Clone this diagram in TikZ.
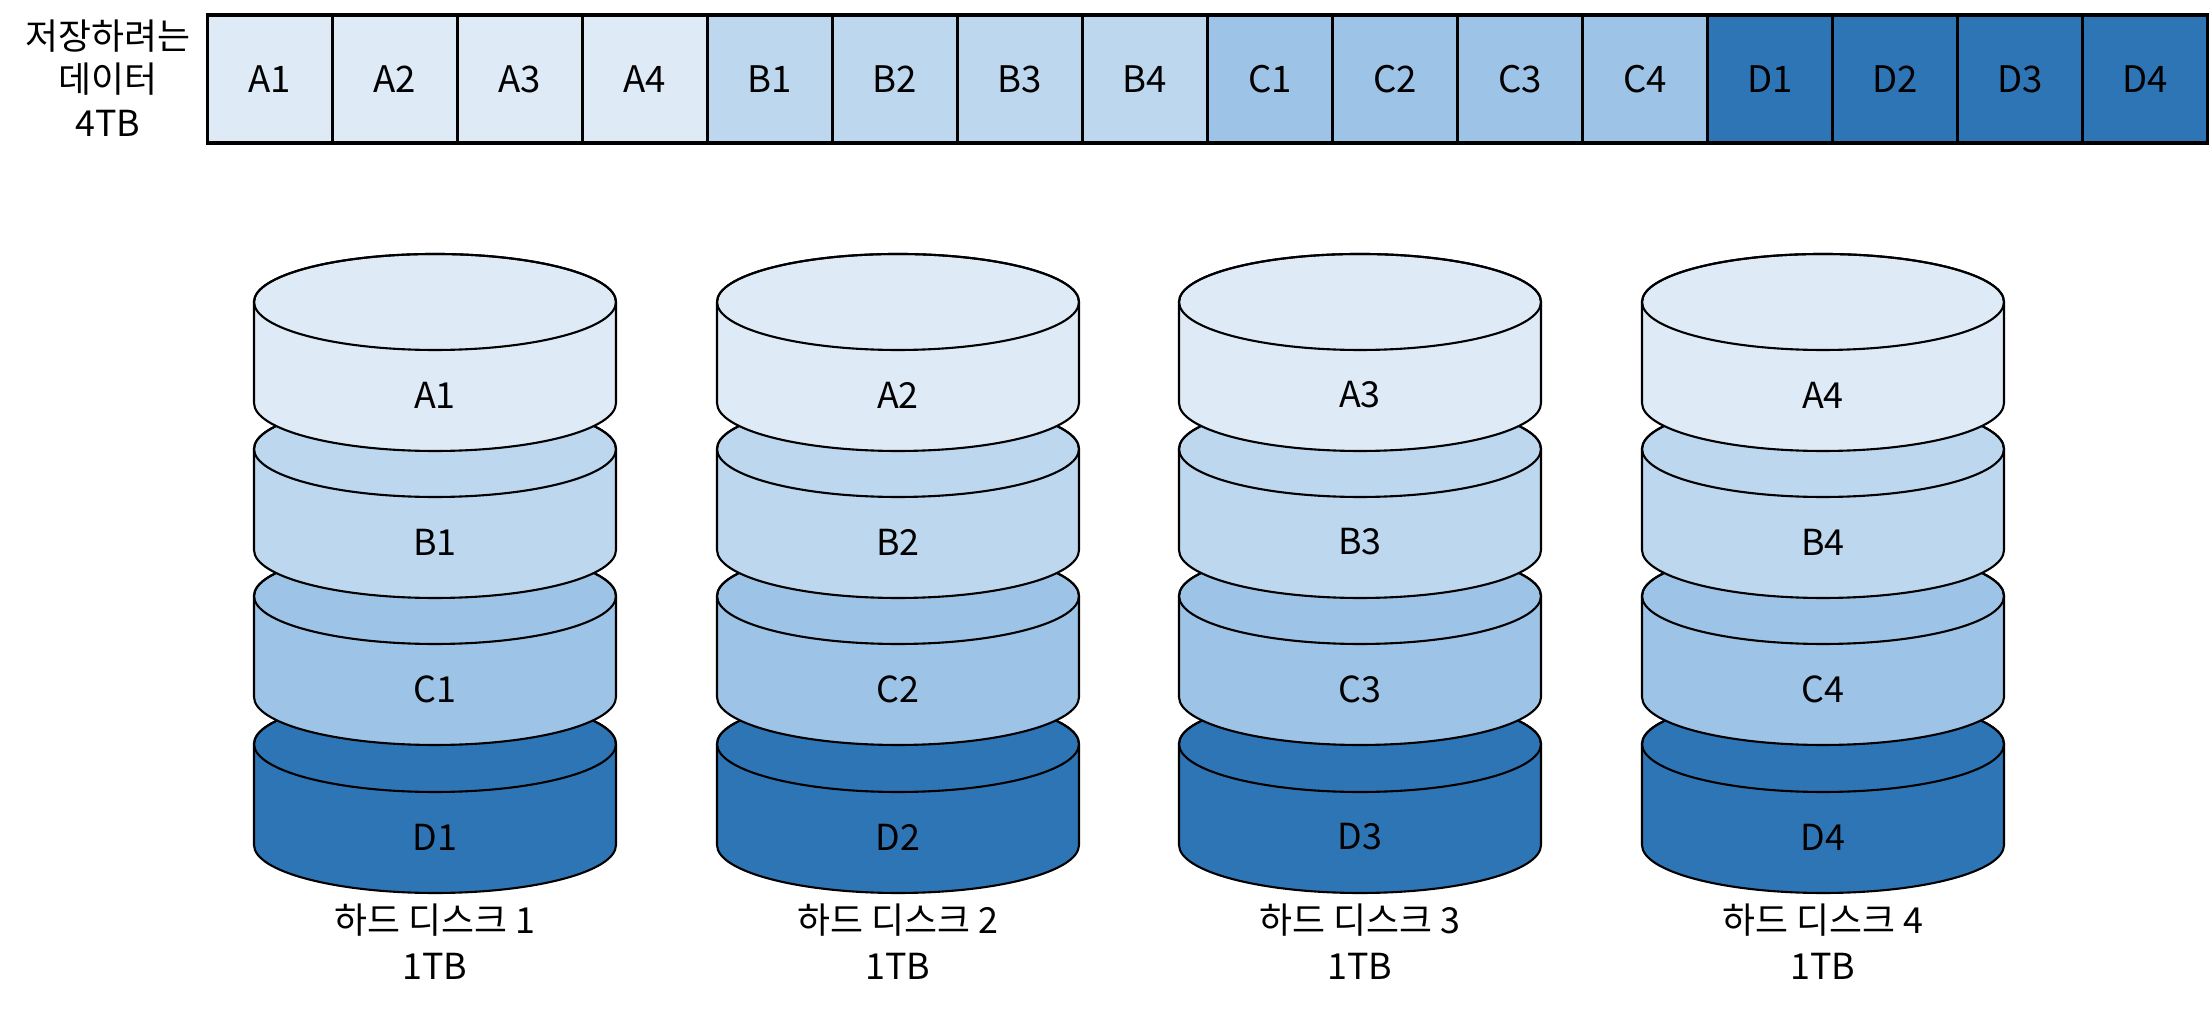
\documentclass[tikz,border=0pt]{standalone}
\usepackage{fontspec}
\setmainfont{Noto Sans CJK KR}
\usetikzlibrary{positioning}
\definecolor{partA}{HTML}{DEEBF7}
\definecolor{partB}{HTML}{BDD7EE}
\definecolor{partC}{HTML}{9DC3E6}
\definecolor{partD}{HTML}{2E75B6}
\tikzset{
  cell/.style={draw=black, line width=1pt, minimum width=1.25cm, minimum height=1.28cm, inner sep=0pt, font=\fontsize{10.4}{12}\selectfont},
  platter/.style={draw=black, line width=0.6pt},
  txt/.style={font=\fontsize{10.2}{12.3}\selectfont, inner sep=0pt, align=center},
}

\begin{document}
\begin{tikzpicture}
    \useasboundingbox (0,0) rectangle (22.11,10.11);
    % Data to be stored
    \node[txt] (data) at (1.08,9.33) {저장하려는\\데이터\\4TB};
    \foreach \l [count=\i from 0] in {A,B,C,D}
        \foreach \j in {1,...,4}
            \node[cell, fill=part\l] (c\l\j) at ({2.7+1.25*(4*\i+\j-1)},9.32) {\l\j};
    % Hard disks, stacked from the bottom up
    \foreach \x [count=\n] in {4.35,8.98,13.60,18.23} {
        \foreach \l/\y in {D/2.67,C/4.15,B/5.62,A/7.09} {
            \draw[platter, fill=part\l] (\x-1.81,\y) -- (\x-1.81,\y-1.01)
                arc[start angle=180, end angle=360, x radius=1.81, y radius=0.48]
                -- (\x+1.81,\y)
                arc[start angle=0, end angle=180, x radius=1.81, y radius=0.48] -- cycle;
            \draw[platter] (\x,\y) ellipse[x radius=1.81, y radius=0.48];
            \node[txt] (\l\n) at (\x,\y-0.93) {\l\n};
        }
        \node[txt, font=\fontsize{10.2}{13.1}\selectfont] (hdd\n) at (\x,0.69) {하드 디스크 \n\\1TB};
    }
\end{tikzpicture}
\end{document}
